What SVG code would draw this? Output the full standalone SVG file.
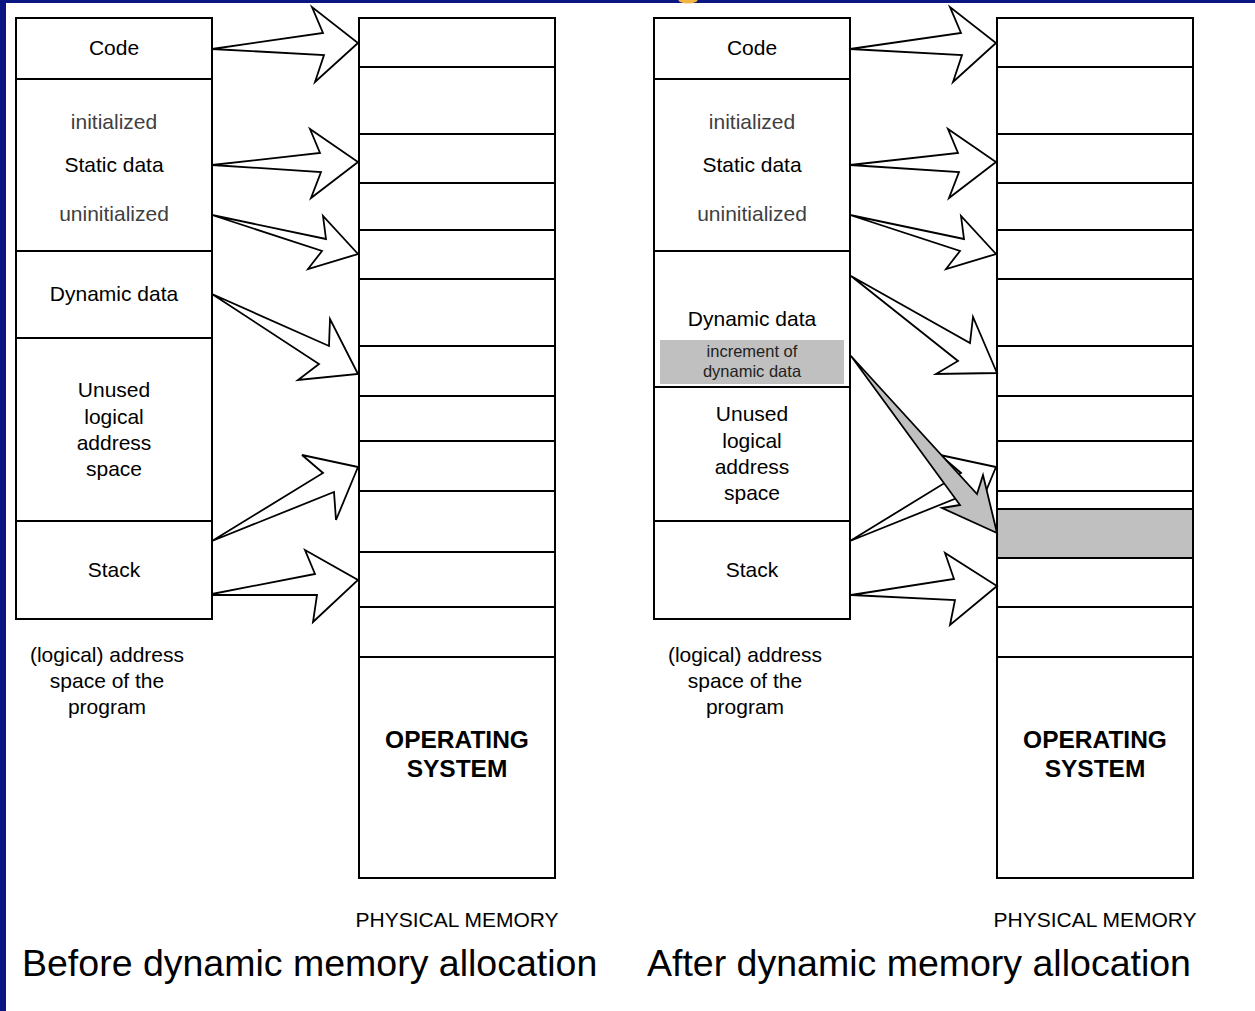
<svg xmlns="http://www.w3.org/2000/svg" width="1255" height="1011" viewBox="0 0 1255 1011">
<style>
.seg{fill:#fff;stroke:#000;stroke-width:2}
.gray{fill:#c0c0c0;stroke:#000;stroke-width:2}
.arr{fill:#fff;stroke:#000;stroke-width:1.8;stroke-linejoin:miter}
.garr{fill:#c0c0c0;stroke:#000;stroke-width:1.8}
text{font-family:"Liberation Sans",Arial,sans-serif;font-size:21px;fill:#000;text-anchor:middle}
.sub{fill:#404040}
.small{font-size:16.5px;fill:#222}
.os{font-size:24.5px;font-weight:bold}
.cap{font-size:37.5px;text-anchor:start}
</style>
<rect x="0" y="0" width="1255" height="1011" fill="#fff"/>
<rect x="0" y="0" width="1255" height="3" fill="#0b1683"/>
<rect x="0" y="0" width="6" height="1011" fill="#0b1683"/>
<ellipse cx="688" cy="-1" rx="10" ry="4.5" fill="#f2b544"/>

<g id="logical-before">
  <rect class="seg" x="16" y="18" width="196" height="61"/>
  <rect class="seg" x="16" y="79" width="196" height="172"/>
  <rect class="seg" x="16" y="251" width="196" height="87"/>
  <rect class="seg" x="16" y="338" width="196" height="183"/>
  <rect class="seg" x="16" y="521" width="196" height="98"/>
  <text x="114" y="55">Code</text>
  <text class="sub" x="114" y="129">initialized</text>
  <text x="114" y="172">Static data</text>
  <text class="sub" x="114" y="221">uninitialized</text>
  <text x="114" y="301">Dynamic data</text>
  <text x="114" y="397">Unused</text>
  <text x="114" y="423.5">logical</text>
  <text x="114" y="450">address</text>
  <text x="114" y="476">space</text>
  <text x="114" y="577">Stack</text>
</g>
<g id="label-logical-before">
  <text x="107" y="662">(logical) address</text>
  <text x="107" y="688">space of the</text>
  <text x="107" y="714">program</text>
</g>

<g id="physical-before">
  <rect class="seg" x="359" y="18" width="196" height="49"/>
  <rect class="seg" x="359" y="67" width="196" height="67"/>
  <rect class="seg" x="359" y="134" width="196" height="49"/>
  <rect class="seg" x="359" y="183" width="196" height="47"/>
  <rect class="seg" x="359" y="230" width="196" height="49"/>
  <rect class="seg" x="359" y="279" width="196" height="67"/>
  <rect class="seg" x="359" y="346" width="196" height="50"/>
  <rect class="seg" x="359" y="396" width="196" height="45"/>
  <rect class="seg" x="359" y="441" width="196" height="50"/>
  <rect class="seg" x="359" y="491" width="196" height="61"/>
  <rect class="seg" x="359" y="552" width="196" height="55"/>
  <rect class="seg" x="359" y="607" width="196" height="50"/>
  <rect class="seg" x="359" y="657" width="196" height="221"/>
  <text class="os" x="457" y="748">OPERATING</text>
  <text class="os" x="457" y="777">SYSTEM</text>
  <text x="457" y="927">PHYSICAL MEMORY</text>
</g>

<g id="logical-after">
  <rect class="seg" x="654" y="18" width="196" height="61"/>
  <rect class="seg" x="654" y="79" width="196" height="172"/>
  <rect class="seg" x="654" y="251" width="196" height="136"/>
  <rect x="660" y="340" width="184" height="44" fill="#c0c0c0"/>
  <rect class="seg" x="654" y="387" width="196" height="134"/>
  <rect class="seg" x="654" y="521" width="196" height="98"/>
  <text x="752" y="55">Code</text>
  <text class="sub" x="752" y="129">initialized</text>
  <text x="752" y="172">Static data</text>
  <text class="sub" x="752" y="221">uninitialized</text>
  <text x="752" y="326">Dynamic data</text>
  <text class="small" x="752" y="357">increment of</text>
  <text class="small" x="752" y="377">dynamic data</text>
  <text x="752" y="421">Unused</text>
  <text x="752" y="447.5">logical</text>
  <text x="752" y="474">address</text>
  <text x="752" y="500">space</text>
  <text x="752" y="577">Stack</text>
</g>
<g id="label-logical-after">
  <text x="745" y="662">(logical) address</text>
  <text x="745" y="688">space of the</text>
  <text x="745" y="714">program</text>
</g>

<g id="physical-after">
  <rect class="seg" x="997" y="18" width="196" height="49"/>
  <rect class="seg" x="997" y="67" width="196" height="67"/>
  <rect class="seg" x="997" y="134" width="196" height="49"/>
  <rect class="seg" x="997" y="183" width="196" height="47"/>
  <rect class="seg" x="997" y="230" width="196" height="49"/>
  <rect class="seg" x="997" y="279" width="196" height="67"/>
  <rect class="seg" x="997" y="346" width="196" height="50"/>
  <rect class="seg" x="997" y="396" width="196" height="45"/>
  <rect class="seg" x="997" y="441" width="196" height="50"/>
  <rect class="seg" x="997" y="491" width="196" height="18"/>
  <rect class="gray" x="997" y="509" width="196" height="49"/>
  <rect class="seg" x="997" y="558" width="196" height="49"/>
  <rect class="seg" x="997" y="607" width="196" height="50"/>
  <rect class="seg" x="997" y="657" width="196" height="221"/>
  <text class="os" x="1095" y="748">OPERATING</text>
  <text class="os" x="1095" y="777">SYSTEM</text>
  <text x="1095" y="927">PHYSICAL MEMORY</text>
</g>

<g id="connectors">
  <polygon class="arr" points="212,49 323,33 312,7 358,43 315,82 324,55"/>
  <polygon class="arr" points="212,165 320,153 310,129 358,162 311,198 321,172"/>
  <polygon class="arr" points="212,215 326,239 323,216 358,254 308,269 322,251"/>
  <polygon class="arr" points="212,294 329,346 330,319 358,374 298,380 319,364"/>
  <polygon class="arr" points="212,541 323,473 302,455 358,467 336,520 334,492"/>
  <polygon class="arr" points="212,594 315,574 305,550 358,580 313,622 317,595 212,595"/>

  <polygon class="arr" points="850,49 961,33 950,7 996,43 953,82 962,55"/>
  <polygon class="arr" points="850,165 958,153 948,129 996,162 949,198 959,172"/>
  <polygon class="arr" points="850,215 964,239 961,216 996,254 946,269 960,251"/>
  <polygon class="arr" points="851,276 970,343 973,317 997,373 936,374 958,361"/>
  <polygon class="arr" points="850,541 961,473 940,455 996,467 974,520 972,492"/>
  <polygon class="arr" points="851,595 954,579 945,553 997,586 950,625 955,600"/>
  <polygon class="garr" points="851,356 977,494 983,475 997,533 942,508 960,505"/>
</g>

<g id="captions">
  <text class="cap" x="22" y="976">Before dynamic memory allocation</text>
  <text class="cap" x="647" y="976">After dynamic memory allocation</text>
</g>
</svg>
